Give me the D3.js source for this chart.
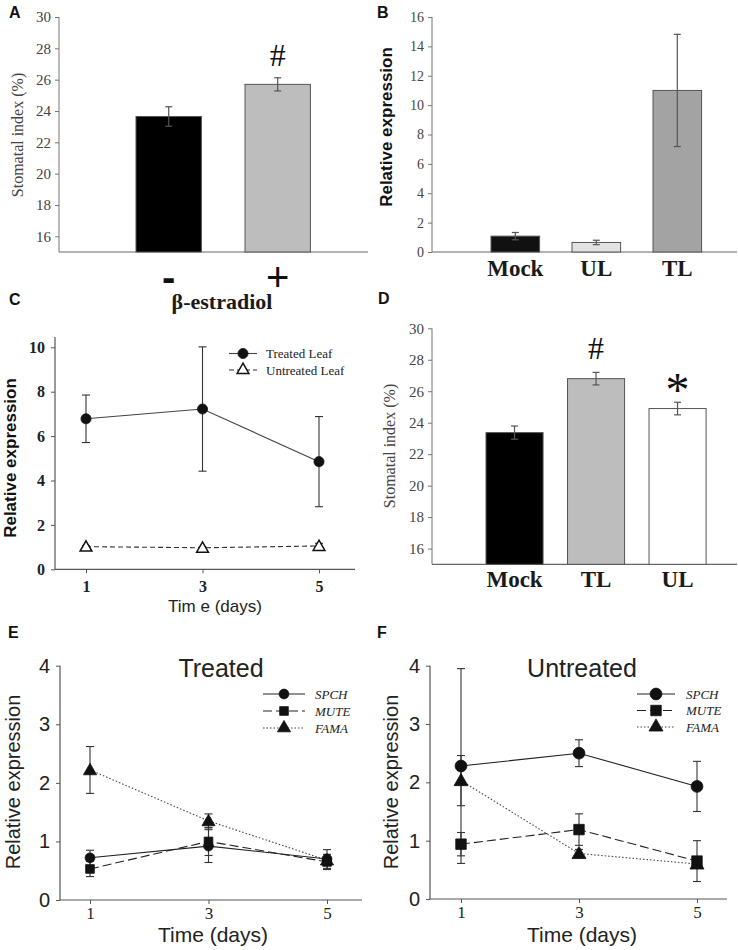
<!DOCTYPE html>
<html><head><meta charset="utf-8">
<script src="https://cdn.jsdelivr.net/npm/d3@7"></script>
<style>body{margin:0;background:#fff}svg{display:block}</style>
</head><body>
<script>
// ---------- DATA ----------
const aCats = ["-", "+"];
const aValues = [23.65, 25.7];
const aErr = [0.62, 0.42];
const aTicks = [16, 18, 20, 22, 24, 26, 28, 30];

const bCats = ["Mock", "UL", "TL"];
const bValues = [1.08, 0.65, 11.0];
const bErr = [0.25, 0.15, 3.82];
const bTicks = [0, 2, 4, 6, 8, 10, 12, 14, 16];

const cDays = [1, 3, 5];
const cTreated = [6.78, 7.22, 4.85];
const cTreatedErr = [1.07, 2.8, 2.03];
const cUntreated = [1.02, 0.97, 1.05];
const cUntreatedErr = [0.04, 0.04, 0.12];
const cTicks = [0, 2, 4, 6, 8, 10];

const dCats = ["Mock", "TL", "UL"];
const dValues = [23.37, 26.8, 24.9];
const dErr = [0.42, 0.4, 0.4];
const dTicks = [16, 18, 20, 22, 24, 26, 28, 30];

const efDays = [1, 3, 5];
const efTicks = [0, 1, 2, 3, 4];
const eSPCH = [0.72, 0.92, 0.7];
const eSPCHErr = [0.13, 0.28, 0.16];
const eMUTE = [0.53, 1.0, 0.65];
const eMUTEErr = [0.13, 0.24, 0.13];
const eFAMA = [2.22, 1.35, 0.68];
const eFAMAErr = [0.4, 0.12, 0.04];

const fSPCH = [2.28, 2.5, 1.93];
const fSPCHErr = [1.67, 0.23, 0.43];
const fMUTE = [0.94, 1.19, 0.65];
const fMUTEErr = [0.2, 0.27, 0.35];
const fFAMA = [2.03, 0.78, 0.6];
const fFAMAErr = [0.43, 0.07, 0.03];

const geneNames = ["SPCH", "MUTE", "FAMA"];
const leafNames = ["Treated Leaf", "Untreated Leaf"];

// ---------- SETUP ----------
const SERIF = "'Liberation Serif', 'Times New Roman', serif";
const SANS = "'Liberation Sans', Arial, sans-serif";
const fmt = d3.format("d");
const svg = d3.select("body").append("svg").attr("width", 738).attr("height", 950);

function panelLetter(t, x, y) {
  svg.append("text").attr("x", x).attr("y", y).text(t)
    .attr("font-family", SANS).attr("font-weight", "bold").attr("font-size", 16).attr("fill", "#111");
}

function yLabel(t, x, y, font, size, weight, color) {
  svg.append("text").attr("transform", `translate(${x},${y}) rotate(-90)`)
    .attr("text-anchor", "middle").attr("dominant-baseline", "central")
    .attr("font-family", font).attr("font-size", size).attr("font-weight", weight)
    .attr("fill", color).text(t);
}

function barPanel(o) {
  const g = svg.append("g");
  const y = d3.scaleLinear().domain(o.yDomain).range([o.yBottom, o.yTop]);
  const x = d3.scaleBand().domain(o.cats).range(o.xRange).paddingInner(o.pi).paddingOuter(0.2);
  const ya = d3.axisLeft(y).tickValues(o.ticks).tickFormat(fmt).tickSize(4).tickPadding(4);
  const yg = g.append("g").attr("transform", `translate(${o.axisX},0)`).call(ya);
  yg.select(".domain").attr("d", `M0,${o.yBottom}V${o.yTop}`).attr("stroke", "#777");
  yg.selectAll(".tick line").attr("stroke", "#777");
  yg.selectAll(".tick text").attr("font-family", SERIF).attr("font-size", o.tickSize).attr("fill", "#444");
  g.append("line").attr("x1", o.axisX).attr("x2", o.axisEnd).attr("y1", o.yBottom).attr("y2", o.yBottom)
    .attr("stroke", "#666").attr("stroke-width", 1.2);
  o.cats.forEach((c, i) => {
    g.append("rect").attr("x", x(c)).attr("width", x.bandwidth())
      .attr("y", y(o.values[i])).attr("height", o.yBottom - y(o.values[i]))
      .attr("fill", o.colors[i]).attr("stroke", "#555").attr("stroke-width", 1);
    const cx = x(c) + x.bandwidth() / 2;
    const hi = y(o.values[i] + o.err[i]), lo = y(o.values[i] - o.err[i]);
    g.append("line").attr("x1", cx).attr("x2", cx).attr("y1", hi).attr("y2", lo).attr("stroke", "#555").attr("stroke-width", 1.2);
    [hi, lo].forEach(v => g.append("line").attr("x1", cx - 3.5).attr("x2", cx + 3.5).attr("y1", v).attr("y2", v).attr("stroke", "#555").attr("stroke-width", 1.2));
    if (o.catLabels) {
      g.append("text").attr("x", cx).attr("y", o.labelY).attr("text-anchor", "middle")
        .attr("font-family", SERIF).attr("font-weight", "bold").attr("font-size", 23).attr("fill", "#1a1a1a").text(c);
    }
    if (o.marks && o.marks[i]) {
      g.append("text").attr("x", cx).attr("y", y(o.values[i] + o.err[i]) - o.markOffset[i]).attr("text-anchor", "middle")
        .attr("font-family", SERIF).attr("font-size", o.markSize[i]).attr("fill", "#111").text(o.marks[i]);
    }
  });
  return {x, y, g};
}

function linePanel(o) {
  const g = svg.append("g");
  const y = d3.scaleLinear().domain(o.yDomain).range([o.yBottom, o.yTop]);
  const x = d3.scaleLinear().domain([1, 5]).range([o.x1, o.x5]);
  const ya = d3.axisLeft(y).tickValues(o.ticks).tickFormat(fmt).tickSize(4).tickPadding(o.yPad);
  const yg = g.append("g").attr("transform", `translate(${o.axisX},0)`).call(ya);
  yg.select(".domain").attr("d", `M0,${o.yBottom}V${o.yAxisTop}`).attr("stroke", "#555").attr("stroke-width", 1.2);
  yg.selectAll(".tick line").attr("stroke", "#555");
  yg.selectAll(".tick text").attr("font-family", o.yTickFont).attr("font-size", o.yTickSize)
    .attr("font-weight", o.yTickWeight).attr("fill", "#222");
  const xa = d3.axisBottom(x).tickValues(o.days).tickFormat(fmt).tickSize(4).tickPadding(o.xPad);
  const xg = g.append("g").attr("transform", `translate(0,${o.yBottom})`).call(xa);
  xg.select(".domain").attr("d", `M${o.axisX},0H${o.axisEnd}`).attr("stroke", "#555").attr("stroke-width", 1.2);
  xg.selectAll(".tick line").attr("stroke", "#555");
  xg.selectAll(".tick text").attr("font-family", SERIF).attr("font-size", o.xTickSize)
    .attr("font-weight", o.xTickWeight).attr("fill", "#222");
  o.series.forEach(s => {
    const pts = o.days.map((d, i) => [x(d), y(s.values[i])]);
    g.append("path").attr("d", d3.line()(pts)).attr("fill", "none")
      .attr("stroke", s.lineColor).attr("stroke-width", 1.1).attr("stroke-dasharray", s.dash);
  });
  o.series.forEach(s => {
    o.days.forEach((d, i) => {
      const cx = x(d), hi = y(s.values[i] + s.err[i]), lo = y(s.values[i] - s.err[i]);
      g.append("line").attr("x1", cx).attr("x2", cx).attr("y1", hi).attr("y2", lo).attr("stroke", "#333").attr("stroke-width", 1.1);
      [hi, lo].forEach(v => g.append("line").attr("x1", cx - 4).attr("x2", cx + 4).attr("y1", v).attr("y2", v).attr("stroke", "#333").attr("stroke-width", 1.1));
    });
  });
  o.series.forEach(s => {
    o.days.forEach((d, i) => {
      g.append("path").attr("d", d3.symbol().type(s.sym).size(s.size)())
        .attr("transform", `translate(${x(d)},${y(s.values[i]) + (s.sym === d3.symbolTriangle ? 1 : 0)})`)
        .attr("fill", s.fill).attr("stroke", "#111").attr("stroke-width", s.fill === "#fff" ? 1.5 : 0.8);
    });
  });
  o.series.forEach((s, i) => {
    const ly = o.legY + i * o.legStep;
    g.append("line").attr("x1", o.legX0).attr("x2", o.legX1).attr("y1", ly).attr("y2", ly)
      .attr("stroke", s.lineColor).attr("stroke-width", 1.1).attr("stroke-dasharray", s.dash);
    g.append("path").attr("d", d3.symbol().type(s.sym).size(s.size)())
      .attr("transform", `translate(${(o.legX0 + o.legX1) / 2},${ly})`)
      .attr("fill", s.fill).attr("stroke", "#111").attr("stroke-width", s.fill === "#fff" ? 1.5 : 0.8);
    g.append("text").attr("x", o.legTextX).attr("y", ly).attr("dominant-baseline", "central")
      .attr("font-family", SERIF).attr("font-size", 13).attr("font-style", o.legItalic ? "italic" : "normal")
      .attr("fill", "#222").text(s.name);
  });
  return {x, y, g};
}

// ---------- PANEL A ----------
panelLetter("A", 9, 18);
const A = barPanel({cats: aCats, values: aValues, err: aErr, ticks: aTicks, yDomain: [15, 30],
  yBottom: 252, yTop: 17, axisX: 59, axisEnd: 368, xRange: [114.2, 332.2], pi: 0.4, tickSize: 15,
  colors: ["#000", "#bdbdbd"], catLabels: false,
  marks: [null, "#"], markOffset: [0, 12], markSize: [0, 32]});
svg.append("text").attr("x", A.x("-") + A.x.bandwidth() / 2).attr("y", 291).attr("text-anchor", "middle")
  .attr("font-family", SANS).attr("font-weight", "bold").attr("font-size", 40).attr("fill", "#111").text(aCats[0]);
svg.append("text").attr("x", A.x("+") + A.x.bandwidth() / 2).attr("y", 291).attr("text-anchor", "middle")
  .attr("font-family", SANS).attr("font-size", 40).attr("fill", "#111").text(aCats[1]);
svg.append("text").attr("x", 222).attr("y", 309).attr("text-anchor", "middle")
  .attr("font-family", SERIF).attr("font-weight", "bold").attr("font-size", 22).attr("fill", "#1a1a1a").text("β-estradiol");
yLabel("Stomatal index (%)", 17, 135, SERIF, 16, "normal", "#444");

// ---------- PANEL B ----------
panelLetter("B", 377, 18);
barPanel({cats: bCats, values: bValues, err: bErr, ticks: bTicks, yDomain: [0, 16],
  yBottom: 252, yTop: 17, axisX: 432, axisEnd: 737, xRange: [474.8, 717.8], pi: 0.4, tickSize: 14,
  colors: ["#111", "#e2e2e2", "#a3a3a3"], catLabels: true, labelY: 276});
yLabel("Relative expression", 386, 127, SANS, 17, "bold", "#111");

// ---------- PANEL C ----------
panelLetter("C", 9, 305);
linePanel({days: cDays, ticks: cTicks, yDomain: [0, 10], yBottom: 569.3, yTop: 347.3, yAxisTop: 337,
  axisX: 55, axisEnd: 355, x1: 86, x5: 319, yPad: 6, xPad: 7,
  yTickFont: SERIF, yTickSize: 16, yTickWeight: "bold", xTickSize: 16, xTickWeight: "bold",
  legX0: 229, legX1: 257, legTextX: 266, legY: 353.5, legStep: 16.5, legItalic: false,
  series: [
    {name: leafNames[0], values: cTreated, err: cTreatedErr, sym: d3.symbolCircle, size: 80, fill: "#111", lineColor: "#444", dash: null},
    {name: leafNames[1], values: cUntreated, err: cUntreatedErr, sym: d3.symbolTriangle, size: 60, fill: "#fff", lineColor: "#333", dash: "5,3"}
  ]});
svg.append("text").attr("x", 215).attr("y", 612).attr("text-anchor", "middle")
  .attr("font-family", SANS).attr("font-size", 17).attr("fill", "#222").text("Tim e (days)");
yLabel("Relative expression", 10, 458, SANS, 17, "bold", "#111");

// ---------- PANEL D ----------
panelLetter("D", 378, 304);
barPanel({cats: dCats, values: dValues, err: dErr, ticks: dTicks, yDomain: [15, 30],
  yBottom: 564.3, yTop: 328.3, axisX: 432, axisEnd: 737, xRange: [469.7, 722.4], pi: 0.3, tickSize: 15,
  colors: ["#000", "#bdbdbd", "#fff"], catLabels: true, labelY: 587,
  marks: [null, "#", "*"], markOffset: [0, 13, -4], markSize: [0, 32, 48]});
yLabel("Stomatal index (%)", 389, 446, SERIF, 16, "normal", "#444");

// ---------- PANEL E ----------
panelLetter("E", 8, 638);
linePanel({days: efDays, ticks: efTicks, yDomain: [0, 4], yBottom: 900, yTop: 665.7, yAxisTop: 665.7,
  axisX: 60, axisEnd: 362, x1: 90, x5: 327, yPad: 6, xPad: 3,
  yTickFont: SANS, yTickSize: 20, yTickWeight: "normal", xTickSize: 17, xTickWeight: "normal",
  legX0: 263, legX1: 305, legTextX: 315, legY: 694, legStep: 17, legItalic: true,
  series: [
    {name: geneNames[0], values: eSPCH, err: eSPCHErr, sym: d3.symbolCircle, size: 75, fill: "#111", lineColor: "#222", dash: null},
    {name: geneNames[1], values: eMUTE, err: eMUTEErr, sym: d3.symbolSquare, size: 75, fill: "#111", lineColor: "#222", dash: "9,4"},
    {name: geneNames[2], values: eFAMA, err: eFAMAErr, sym: d3.symbolTriangle, size: 75, fill: "#111", lineColor: "#444", dash: "1.5,2"}
  ]});
svg.append("text").attr("x", 221).attr("y", 677).attr("text-anchor", "middle")
  .attr("font-family", SANS).attr("font-size", 25).attr("fill", "#222").text("Treated");
svg.append("text").attr("x", 213).attr("y", 942).attr("text-anchor", "middle")
  .attr("font-family", SANS).attr("font-size", 21).attr("fill", "#222").text("Time (days)");
yLabel("Relative expression", 13, 782, SANS, 20, "normal", "#222");

// ---------- PANEL F ----------
panelLetter("F", 377, 638);
linePanel({days: efDays, ticks: efTicks, yDomain: [0, 4], yBottom: 899, yTop: 665.7, yAxisTop: 665.7,
  axisX: 430, axisEnd: 727, x1: 461, x5: 697, yPad: 6, xPad: 3,
  yTickFont: SANS, yTickSize: 20, yTickWeight: "normal", xTickSize: 17, xTickWeight: "normal",
  legX0: 637, legX1: 675, legTextX: 686, legY: 694, legStep: 16.5, legItalic: true,
  series: [
    {name: geneNames[0], values: fSPCH, err: fSPCHErr, sym: d3.symbolCircle, size: 110, fill: "#111", lineColor: "#222", dash: null},
    {name: geneNames[1], values: fMUTE, err: fMUTEErr, sym: d3.symbolSquare, size: 110, fill: "#111", lineColor: "#222", dash: "9,4"},
    {name: geneNames[2], values: fFAMA, err: fFAMAErr, sym: d3.symbolTriangle, size: 85, fill: "#111", lineColor: "#444", dash: "1.5,2"}
  ]});
svg.append("text").attr("x", 582).attr("y", 677).attr("text-anchor", "middle")
  .attr("font-family", SANS).attr("font-size", 25).attr("fill", "#222").text("Untreated");
svg.append("text").attr("x", 582).attr("y", 942).attr("text-anchor", "middle")
  .attr("font-family", SANS).attr("font-size", 21).attr("fill", "#222").text("Time (days)");
yLabel("Relative expression", 391, 782, SANS, 20, "normal", "#222");
</script>
</body></html>
